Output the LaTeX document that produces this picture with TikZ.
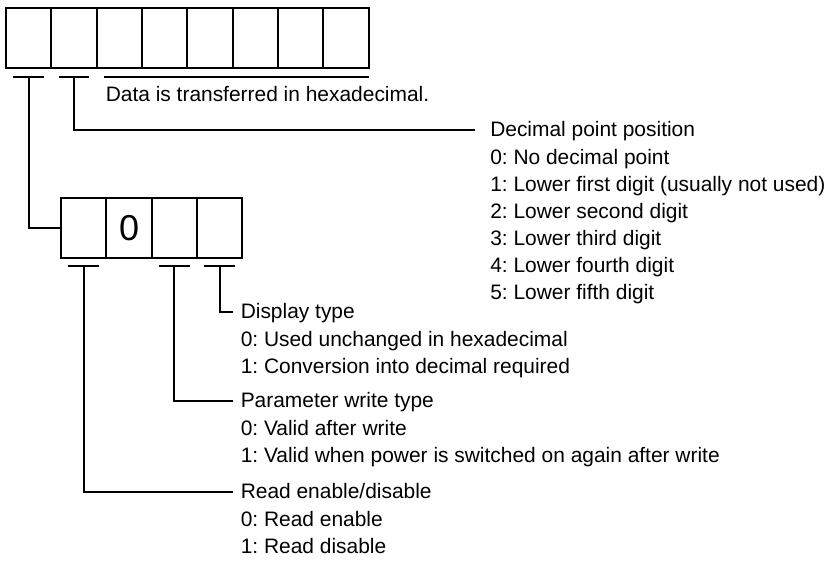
\documentclass[tikz,border=0pt]{standalone}
\usepackage{fontspec}
\setmainfont{Liberation Sans}
\usepackage{tikz}
\usetikzlibrary{positioning}
\frenchspacing
\newcommand{\lblfont}{\fontsize{15.7}{20.3}\selectfont}
\tikzset{
  cell/.style={draw,line width=1.5pt,minimum width=34pt,minimum height=45pt,
               inner sep=0pt,outer sep=0pt},
  bar/.style={line width=1.5pt},
  lead/.style={line width=1.5pt},
  title/.style={anchor=west,inner sep=0pt,text height=12.5pt,text depth=2.5pt,
                font=\lblfont},
  list/.style={align=left,inner sep=0pt,font=\lblfont}
}

\begin{document}
\begin{tikzpicture}[x=0.75pt,y=-0.75pt]
  \useasboundingbox (0,0) rectangle (833,568);

  % upper register, eight digits
  \node[cell] (t1) at (28.7,38) {};
  \foreach \i [remember=\i as \j (initially 1)] in {2,...,8}
    \node[cell,right=0pt of t\j] (t\i) {};

  % lower register, four digits
  \node[cell] (l1) at (83.7,228) {};
  \node[cell,right=0pt of l1,font=\fontsize{27}{30}\selectfont] (l2) {0};
  \node[cell,right=0pt of l2] (l3) {};
  \node[cell,right=0pt of l3] (l4) {};

  % marker bars under the digits
  \foreach \c/\dy in {t1/6.75pt,t2/6.75pt,l1/6pt,l3/6pt,l4/6pt} {
    \coordinate (\c b) at ([yshift=-\dy]\c.south);
    \draw[bar] ([xshift=-11.5pt]\c b) -- ([xshift=11.5pt]\c b);
  }
  \coordinate (restb) at ([xshift=5.25pt,yshift=-6.75pt]t3.south west);
  \draw[bar] (restb) -- ([yshift=-6.75pt]t8.south east);

  \node[title] (note) at (105.5,95) {Data is transferred in hexadecimal.};

  % labels
  \node[title] (dp) at (490,130) {Decimal point position};
  \node[list,below right=6.6pt and 0pt of dp.south west] (dpl)
    {0: No decimal point\\1: Lower first digit (usually not used)\\
     2: Lower second digit\\3: Lower third digit\\4: Lower fourth digit\\
     5: Lower fifth digit};

  \node[title] (disp) at (240.5,312) {Display type};
  \node[list,below right=6.6pt and 0pt of disp.south west] (displ)
    {0: Used unchanged in hexadecimal\\1: Conversion into decimal required};

  \node[title] (pw) at (240.5,401) {Parameter write type};
  \node[list,below right=6.6pt and 0pt of pw.south west] (pwl)
    {0: Valid after write\\1: Valid when power is switched on again after write};

  \node[title] (rd) at (240.5,492) {Read enable/disable};
  \node[list,below right=6.6pt and 0pt of rd.south west] (rdl)
    {0: Read enable\\1: Read disable};

  % leader lines
  \draw[lead] (t1b) |- (l1.west);
  \draw[lead] (t2b) |- ([xshift=-11.25pt]dp.west);
  \draw[lead] (l4b) |- ([xshift=-5.6pt]disp.west);
  \draw[lead] (l3b) |- ([xshift=-5.6pt]pw.west);
  \draw[lead] (l1b) |- ([xshift=-5.6pt]rd.west);
\end{tikzpicture}
\end{document}
